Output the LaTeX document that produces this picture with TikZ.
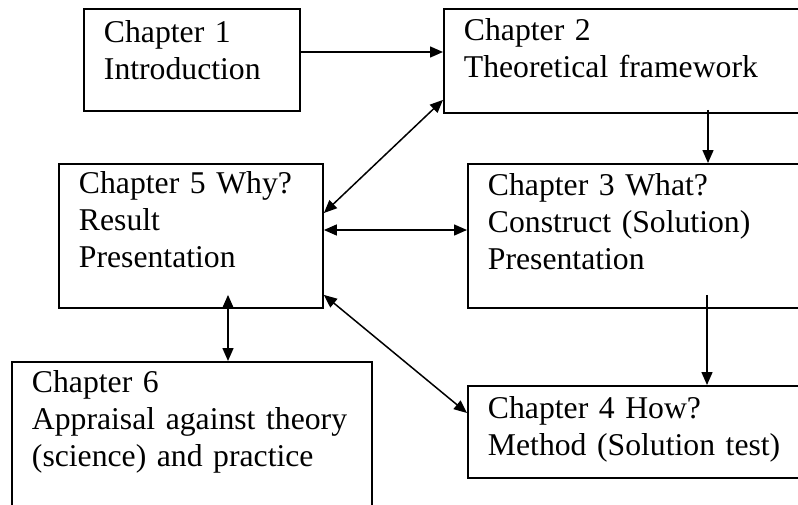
\documentclass[tikz,border=0pt]{standalone}
\usepackage{fontspec}
\setmainfont{Liberation Serif}
\usepackage{tikz}
\usetikzlibrary{arrows.meta}
\newcommand{\chapfont}{\fontsize{31.7}{37}\selectfont}
\tikzset{
  chap/.style={
    draw, line width=1.9pt, anchor=north west, align=left,
    inner xsep=20pt, inner ysep=0pt, text height=32pt,
    font=\chapfont
  },
  arr/.style={
    -{Triangle[length=13pt,width=11pt]}, line width=1.5pt
  },
  darr/.style={
    {Triangle[length=13pt,width=11pt]}-{Triangle[length=13pt,width=11pt]},
    line width=1.5pt
  }
}
\begin{document}
\begin{tikzpicture}[x=1pt, y=-1pt]
  \useasboundingbox (0,0) rectangle (798,504);
  \clip (0,0) rectangle (798,504);
  \fill[white] (0,0) rectangle (798,504);
  % chapter boxes (right-hand ones run past the edge)
  \node[chap, text width=176pt, text height=34pt, text depth=68pt] (c1) at (83,8)
    {Chapter 1\\Introduction};
  \node[chap, text width=340pt, text depth=72pt]  (c2) at (443,8)
    {Chapter 2\\Theoretical framework};
  \node[chap, text width=224pt, text height=30pt, text depth=114pt] (c5) at (58,163)
    {Chapter 5 Why?\\Result\\Presentation};
  \node[chap, text width=320pt, text depth=112pt] (c3) at (467,163)
    {Chapter 3 What?\\Construct (Solution)\\Presentation};
  \node[chap, text width=320pt, text height=31pt, text depth=129pt] (c6) at (11,361)
    {Chapter 6\\Appraisal against theory\\(science) and practice};
  \node[chap, text width=320pt, text height=33pt, text depth=59pt]  (c4) at (467,385)
    {Chapter 4 How?\\Method (Solution test)};
  % connectors
  \coordinate (m1) at ([yshift=-44pt]c1.north east);
  \coordinate (m5) at ([yshift=-67pt]c5.north east);
  \draw[arr] (m1) -- (m1 -| c2.west);
  \draw[arr] ([xshift=265pt,yshift=4pt]c2.south west) -- ([xshift=241pt]c3.north west);
  \draw[darr] ([yshift=-50pt]c5.north east) -- ([yshift=14pt]c2.south west);
  \draw[darr] (m5) -- (m5 -| c3.west);
  \draw[darr] ([xshift=170pt,yshift=14pt]c5.south west) -- ([xshift=217pt]c6.north west);
  \draw[darr] ([yshift=14pt]c5.south east) -- ([yshift=-28pt]c4.north west);
  \draw[arr] ([xshift=240pt,yshift=14pt]c3.south west) -- ([xshift=240pt]c4.north west);
\end{tikzpicture}
\end{document}
